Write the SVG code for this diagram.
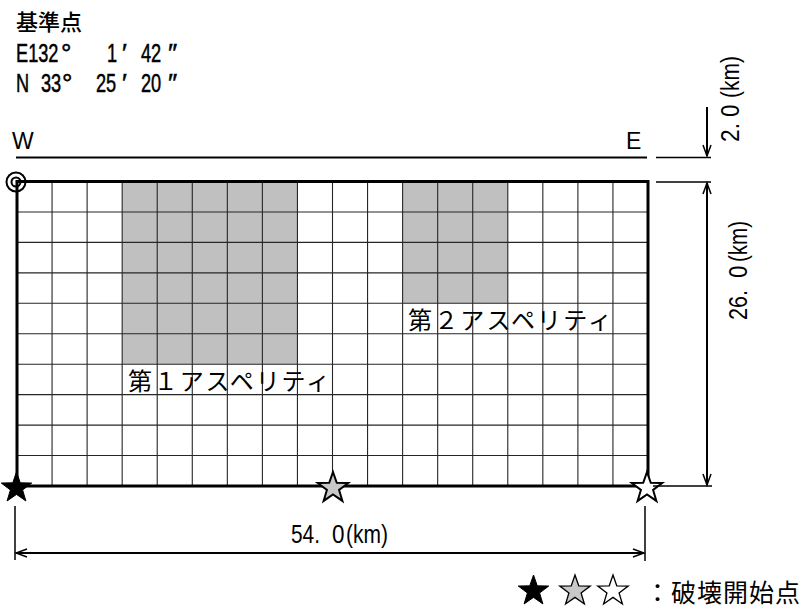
<svg xmlns="http://www.w3.org/2000/svg" xmlns:xlink="http://www.w3.org/1999/xlink" width="804" height="610" viewBox="0 0 804 610">
<style>
.lat{font-family:"Liberation Sans",Arial,sans-serif;fill:#000}
.cjk{font-family:"Noto Sans CJK JP","Noto Sans CJK SC",sans-serif;fill:#000}
.tall{font-family:"Liberation Sans",Arial,sans-serif;fill:#000;stroke:#000;stroke-width:0.5;font-size:26px}
.grid line{stroke:#262626;stroke-width:1.1}
.asp{fill:#c0c0c0}
.dim{stroke:#000;stroke-width:1.5;fill:none}
.dimb{stroke:#000;stroke-width:2;fill:none}
</style>
<defs>
<marker id="ah" viewBox="-12 -6 14 12" markerWidth="14" markerHeight="12" refX="0" refY="0" orient="auto-start-reverse" markerUnits="userSpaceOnUse">
<path d="M-11,-4 L0,0 L-11,4" fill="none" stroke="#000" stroke-width="1.5"/>
</marker>
<path id="star" d="M0,-16 L3.76,-5.18 L15.22,-4.94 L6.09,1.98 L9.4,12.94 L0,6.4 L-9.4,12.94 L-6.09,1.98 L-15.22,-4.94 L-3.76,-5.18 Z"/>
</defs>
<rect width="804" height="610" fill="#fff"/>

<g id="origin-text">
<text class="cjk" x="16" y="30" font-size="22" font-weight="500">基準点</text>
<text class="tall" transform="scale(0.7,1)" x="22.86" y="62">E132</text>
<text class="tall" x="61" y="62">°</text>
<text class="tall" transform="scale(0.7,1)" x="152.86" y="62">1</text>
<text class="tall" x="122" y="62">′</text>
<text class="tall" transform="scale(0.7,1)" x="201.43" y="62">42</text>
<text class="tall" x="168" y="62">″</text>
<text class="tall" transform="scale(0.7,1)" x="22.86" y="92">N</text>
<text class="tall" transform="scale(0.7,1)" x="58.57" y="92">33</text>
<text class="tall" x="62" y="92">°</text>
<text class="tall" transform="scale(0.7,1)" x="137.14" y="92">25</text>
<text class="tall" x="122" y="92">′</text>
<text class="tall" transform="scale(0.7,1)" x="201.43" y="92">20</text>
<text class="tall" x="168" y="92">″</text>
</g>

<g id="we-line">
<text class="lat" x="12" y="149" font-size="23">W</text>
<text class="lat" x="626" y="149" font-size="23">E</text>
<line x1="16" y1="157.5" x2="647" y2="157.5" stroke="#000" stroke-width="2"/>
</g>

<g id="fault-plane">
<rect class="asp" x="122.17" y="181.5" width="175.27" height="182.7"/>
<rect class="asp" x="402.61" y="181.5" width="105.17" height="121.8"/>
<g class="grid">
<line x1="52.06" y1="181.5" x2="52.06" y2="486"/>
<line x1="87.11" y1="181.5" x2="87.11" y2="486"/>
<line x1="122.17" y1="181.5" x2="122.17" y2="486"/>
<line x1="157.22" y1="181.5" x2="157.22" y2="486"/>
<line x1="192.28" y1="181.5" x2="192.28" y2="486"/>
<line x1="227.33" y1="181.5" x2="227.33" y2="486"/>
<line x1="262.39" y1="181.5" x2="262.39" y2="486"/>
<line x1="297.44" y1="181.5" x2="297.44" y2="486"/>
<line x1="332.5" y1="181.5" x2="332.5" y2="486"/>
<line x1="367.56" y1="181.5" x2="367.56" y2="486"/>
<line x1="402.61" y1="181.5" x2="402.61" y2="486"/>
<line x1="437.67" y1="181.5" x2="437.67" y2="486"/>
<line x1="472.72" y1="181.5" x2="472.72" y2="486"/>
<line x1="507.78" y1="181.5" x2="507.78" y2="486"/>
<line x1="542.83" y1="181.5" x2="542.83" y2="486"/>
<line x1="577.89" y1="181.5" x2="577.89" y2="486"/>
<line x1="612.94" y1="181.5" x2="612.94" y2="486"/>
<line x1="17" y1="211.95" x2="648" y2="211.95"/>
<line x1="17" y1="242.4" x2="648" y2="242.4"/>
<line x1="17" y1="272.85" x2="648" y2="272.85"/>
<line x1="17" y1="303.3" x2="648" y2="303.3"/>
<line x1="17" y1="333.75" x2="648" y2="333.75"/>
<line x1="17" y1="364.2" x2="648" y2="364.2"/>
<line x1="17" y1="394.65" x2="648" y2="394.65"/>
<line x1="17" y1="425.1" x2="648" y2="425.1"/>
<line x1="17" y1="455.55" x2="648" y2="455.55"/>
</g>
<rect x="17" y="181.5" width="631" height="304.5" fill="none" stroke="#000" stroke-width="3"/>
</g>

<g id="asperity1">
<text class="cjk" x="128" y="390" font-size="24" textLength="202" lengthAdjust="spacing">第１アスペリティ</text>
</g>
<g id="asperity2">
<text class="cjk" x="408" y="329" font-size="24" textLength="204" lengthAdjust="spacing">第２アスペリティ</text>
</g>

<g id="reference-point">
<circle cx="16" cy="182" r="9.5" fill="none" stroke="#000" stroke-width="2"/>
<circle cx="16" cy="182" r="4.5" fill="none" stroke="#000" stroke-width="2"/>
</g>

<g id="hypocenters">
<use xlink:href="#star" href="#star" x="16.5" y="488" fill="#000" stroke="#000" stroke-width="1"/>
<use xlink:href="#star" href="#star" x="333" y="488" fill="#c8c8c8" stroke="#000" stroke-width="2"/>
<use xlink:href="#star" href="#star" x="647" y="488" fill="#fff" stroke="#000" stroke-width="2"/>
</g>

<g id="connectors">
<line class="dim" x1="656" y1="157.5" x2="711" y2="157.5"/>
<line class="dim" x1="656" y1="182" x2="711" y2="182"/>
<line class="dim" x1="653" y1="486" x2="712" y2="486"/>
<line class="dimb" x1="707" y1="107" x2="707" y2="156" marker-end="url(#ah)"/>
<line class="dimb" x1="707" y1="183" x2="707" y2="485" marker-start="url(#ah)" marker-end="url(#ah)"/>
<line class="dim" x1="15" y1="506" x2="15" y2="560"/>
<line class="dim" x1="645" y1="506" x2="645" y2="561"/>
<line class="dimb" x1="16" y1="553" x2="644" y2="553" marker-start="url(#ah)" marker-end="url(#ah)"/>
</g>

<g id="dim-labels">
<text class="lat" font-size="25" transform="translate(739,142) rotate(-90)" y="0"><tspan x="0" textLength="19" lengthAdjust="spacingAndGlyphs">2.</tspan><tspan x="25" textLength="12.5" lengthAdjust="spacingAndGlyphs">0</tspan><tspan x="44" textLength="42" lengthAdjust="spacingAndGlyphs">(km)</tspan></text>
<text class="lat" font-size="25" transform="translate(747,320) rotate(-90)" y="0"><tspan x="0" textLength="30" lengthAdjust="spacingAndGlyphs">26.</tspan><tspan x="42" textLength="12.5" lengthAdjust="spacingAndGlyphs">0</tspan><tspan x="58" textLength="41" lengthAdjust="spacingAndGlyphs">(km)</tspan></text>
<text class="lat" font-size="25" y="543"><tspan x="291" textLength="29" lengthAdjust="spacingAndGlyphs">54.</tspan><tspan x="332" textLength="12.5" lengthAdjust="spacingAndGlyphs">0</tspan><tspan x="346" textLength="42" lengthAdjust="spacingAndGlyphs">(km)</tspan></text>
</g>

<g id="legend">
<use xlink:href="#star" href="#star" x="533.5" y="591" fill="#000" stroke="#000" stroke-width="1"/>
<use xlink:href="#star" href="#star" x="575" y="591" fill="#c8c8c8" stroke="#000" stroke-width="1.3"/>
<use xlink:href="#star" href="#star" x="613" y="591" fill="#fff" stroke="#000" stroke-width="1.3"/>
<text class="cjk" x="645" y="602" font-size="25" textLength="155" lengthAdjust="spacing">：破壊開始点</text>
</g>
</svg>
